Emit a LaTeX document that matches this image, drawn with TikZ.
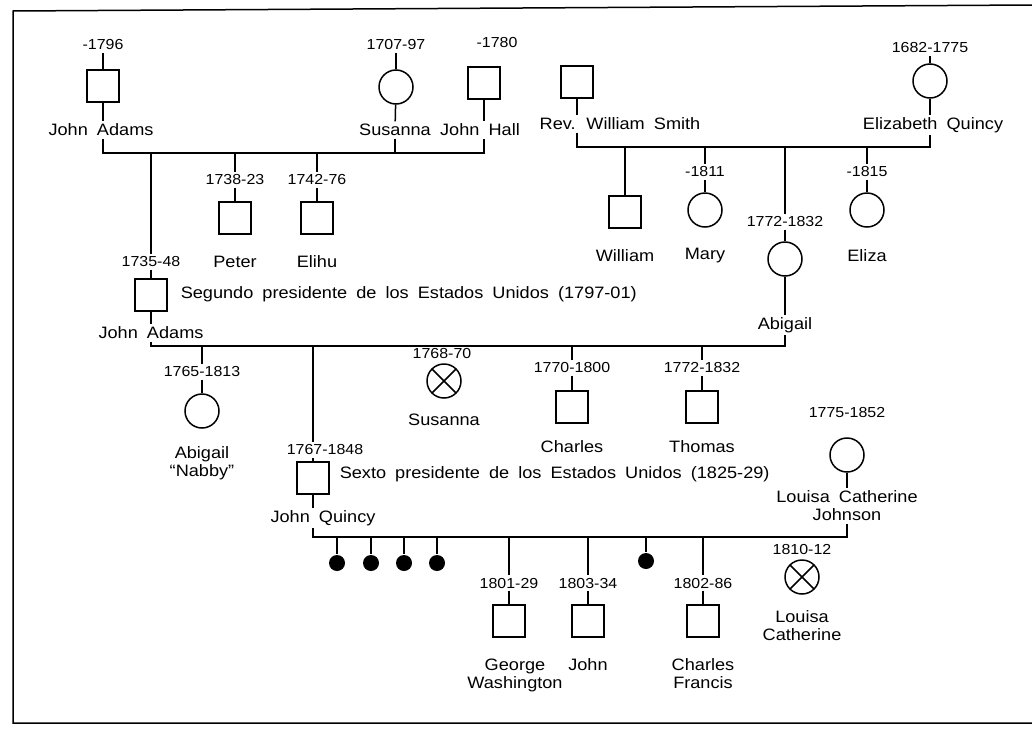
\documentclass[tikz,border=0pt]{standalone}
\usepackage{fontspec}
\setmainfont[FakeStretch=1.1,WordSpace=1.8]{Liberation Sans}

\begin{document}
\begin{tikzpicture}[x=1pt,y=-1pt,line width=1.5pt,
  male/.style={draw,minimum width=32pt,minimum height=32pt,inner sep=0pt},
  female/.style={draw,circle,minimum size=34pt,inner sep=0pt},
  lost/.style={female,path picture={\draw (path picture bounding box.north west) -- (path picture bounding box.south east) (path picture bounding box.north east) -- (path picture bounding box.south west);}},
  still/.style={circle,fill,minimum size=16pt,inner sep=0pt},
  yr/.style={inner sep=2pt,font=\fontsize{14.5}{16}\selectfont},
  nm/.style={inner sep=2pt,align=center,font=\fontsize{16.5}{18}\selectfont},
  note/.style={nm,anchor=west}]
\useasboundingbox (0,0) rectangle (1032,731);
\draw (1032,5) -- (13,11) -- (13,723) -- (1032,723);

\node[yr] (ja1y) at (103,45) {-1796};
\node[male] (ja1) at (103,86) {};
\node[nm] (ja1n) at (101,130) {John Adams};
\node[yr] (su1y) at (396,45) {1707-97};
\node[female] (su1) at (396,87) {};
\node[nm] (su1n) at (395,130) {Susanna};
\node[yr] (jhy) at (497,43) {-1780};
\node[male] (jh) at (484,83) {};
\node[nm] (jhn) at (480,130) {John Hall};
\coordinate (m1) at (151,153);
\draw (ja1y) -- (ja1);
\draw (ja1.south) -- (ja1.south |- ja1n.north);
\draw (su1y) -- (su1);
\draw (su1) -- (su1n);
\draw (jh.south) -- (jh.south |- jhn.north);
\draw (ja1.south |- ja1n.south) -- (ja1.south |- m1) -- (jh.south |- m1) -- (jh.south |- jhn.south);
\draw (su1n.south) -- (su1n.south |- m1);

\node[yr] (pty) at (235,180) {1738-23};
\node[male] (pt) at (235,218) {};
\node[nm] (ptn) at (235,262) {Peter};
\node[yr] (ely) at (317,180) {1742-76};
\node[male] (el) at (317,218) {};
\node[nm] (eln) at (317,262) {Elihu};
\draw (pty.north |- m1) -- (pty);
\draw (pty) -- (pt);
\draw (ely.north |- m1) -- (ely);
\draw (ely) -- (el);

\node[yr] (ja2y) at (151,262) {1735-48};
\node[male] (ja2) at (151,295) {};
\node[note] (ja2t) at (178,294) {Segundo presidente de los Estados Unidos (1797-01)};
\node[nm] (ja2n) at (151,333) {John Adams};
\draw (m1) -- (ja2y);
\draw (ja2y) -- (ja2);
\draw (ja2) -- (ja2n);

\node[male] (ws) at (577,82) {};
\node[nm] (wsn) at (620,124) {Rev. William Smith};
\node[yr] (eqy) at (930,48) {1682-1775};
\node[female] (eq) at (930,81) {};
\node[nm] (eqn) at (933,125) {Elizabeth Quincy};
\coordinate (m2) at (625,147);
\draw (ws.south) -- (ws.south |- wsn.north);
\draw (eqy) -- (eq);
\draw (eq.south) -- (eq.south |- eqn.north);
\draw (ws.south |- wsn.south) -- (ws.south |- m2) -- (eq.south |- m2) -- (eq.south |- eqn.south);

\node[male] (wi) at (625,212) {};
\node[nm] (win) at (625,256) {William};
\node[yr] (myy) at (705,172) {-1811};
\node[female] (my) at (705,210) {};
\node[nm] (myn) at (705,256) {Mary};
\node[yr] (aby) at (785,222) {1772-1832};
\node[female] (ab) at (785,259) {};
\node[nm] (abn) at (785,325) {Abigail};
\node[yr] (ezy) at (867,172) {-1815};
\node[female] (ez) at (867,210) {};
\node[nm] (ezn) at (867,256) {Eliza};
\draw (m2) -- (wi);
\draw (myy.north |- m2) -- (myy);
\draw (myy) -- (my);
\draw (aby.north |- m2) -- (aby);
\draw (aby) -- (ab);
\draw (ab) -- (abn);
\draw (ezy.north |- m2) -- (ezy);
\draw (ezy) -- (ez);

\coordinate (m3) at (313,346);
\draw (ja2n.south) -- (ja2n.south |- m3) -- (abn.south |- m3) -- (abn.south);

\node[yr] (any) at (202,372) {1765-1813};
\node[female] (an) at (202,411) {};
\node[nm] (ann) at (202,463) {Abigail\\“Nabby”};
\draw (any.north |- m3) -- (any);
\draw (any) -- (an);

\node[yr] (jqy) at (325,450) {1767-1848};
\node[male] (jq) at (313,478) {};
\node[note] (jqt) at (337,474) {Sexto presidente de los Estados Unidos (1825-29)};
\node[nm] (jqn) at (323,518) {John Quincy};
\draw (m3) -- (jq.north |- jqy.north);
\draw (jq.north |- jqy.south) -- (jq);
\draw (jq.south) -- (jq.south |- jqn.north);

\node[yr] (sny) at (442,354) {1768-70};
\node[lost] (sn) at (444,381) {};
\node[nm] (snn) at (444,420) {Susanna};

\node[yr] (chy) at (572,368) {1770-1800};
\node[male] (ch) at (572,407) {};
\node[nm] (chn) at (572,447) {Charles};
\node[yr] (thy) at (702,368) {1772-1832};
\node[male] (th) at (702,407) {};
\node[nm] (thn) at (702,447) {Thomas};
\draw (chy.north |- m3) -- (chy);
\draw (chy) -- (ch);
\draw (thy.north |- m3) -- (thy);
\draw (thy) -- (th);

\node[yr] (lcjy) at (847,413) {1775-1852};
\node[female] (lcj) at (847,455) {};
\node[nm] (lcjn) at (847,506) {Louisa Catherine\\Johnson};
\coordinate (m4) at (313,537);
\draw (lcj) -- (lcjn);
\draw (jq.south |- jqn.south) -- (m4) -- (lcjn.south |- m4) -- (lcjn.south);

\node[still] (d1) at (337,563) {};
\node[still] (d2) at (371,563) {};
\node[still] (d3) at (404,563) {};
\node[still] (d4) at (437,563) {};
\node[still] (d5) at (646,561) {};
\draw (d1.north |- m4) -- (d1);
\draw (d2.north |- m4) -- (d2);
\draw (d3.north |- m4) -- (d3);
\draw (d4.north |- m4) -- (d4);
\draw (d5.north |- m4) -- (d5);

\node[yr] (gwy) at (509,583) {1801-29};
\node[male] (gw) at (509,621) {};
\node[nm] (gwn) at (515,675) {George\\Washington};
\node[yr] (jny) at (588,583) {1803-34};
\node[male] (jn) at (588,621) {};
\node[nm] (jnn) at (588,665) {John};
\node[yr] (cfy) at (703,583) {1802-86};
\node[male] (cf) at (703,621) {};
\node[nm] (cfn) at (703,674) {Charles\\Francis};
\draw (gwy.north |- m4) -- (gwy);
\draw (gwy) -- (gw);
\draw (jny.north |- m4) -- (jny);
\draw (jny) -- (jn);
\draw (cfy.north |- m4) -- (cfy);
\draw (cfy) -- (cf);

\node[yr] (lcy) at (802,549) {1810-12};
\node[lost] (lc) at (802,577) {};
\node[nm] (lcn) at (802,626) {Louisa\\Catherine};
\end{tikzpicture}
\end{document}
